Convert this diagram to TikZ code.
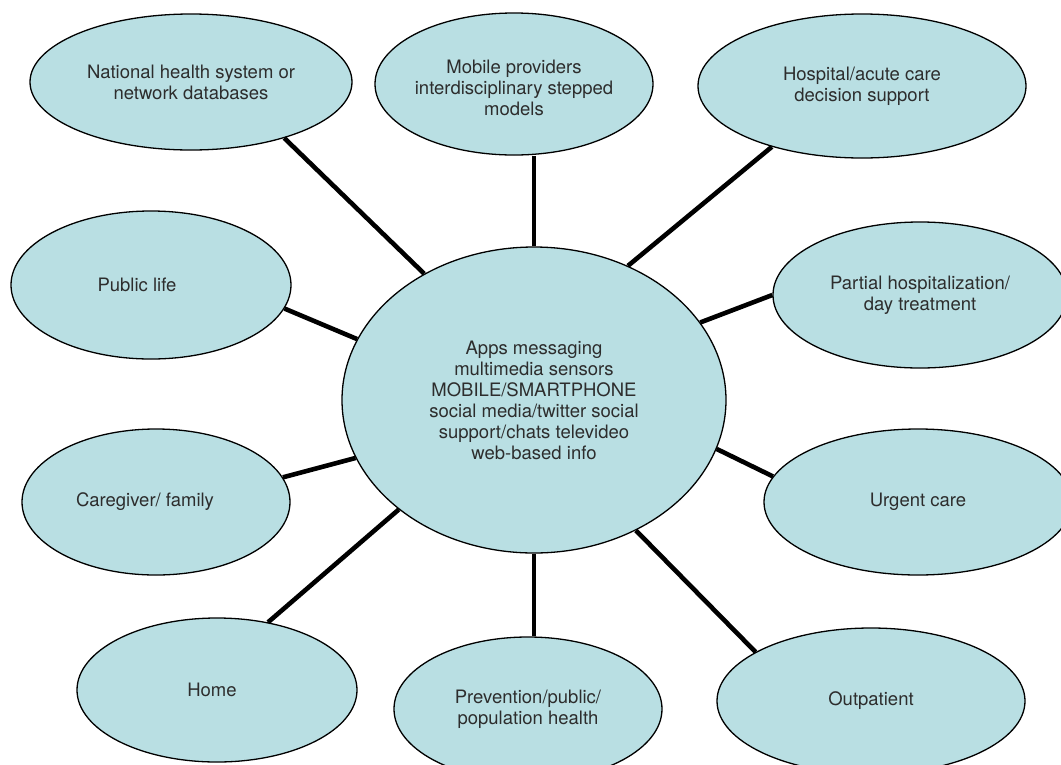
\documentclass[tikz,border=0pt]{standalone}
\usepackage{fontspec}
\setmainfont{TeX Gyre Heros}
\usetikzlibrary{shapes.geometric}
\definecolor{bubblefill}{RGB}{185,223,227}
\definecolor{bubbletext}{RGB}{45,45,45}

\begin{document}
\begin{tikzpicture}[x=1pt, y=-1pt, bubble node/.style={ellipse, draw, fill=bubblefill, line width=1.3pt, inner sep=0pt},
    txt/.style={align=center, text=bubbletext, font=\fontsize{18.5}{21}\selectfont}, link/.style={line width=4.6pt}]
\useasboundingbox (0,0) rectangle (1061,764);

% centre
\node[bubble node, minimum width=384, minimum height=306,
    label={[txt]center:{Apps messaging\\multimedia sensors\\MOBILE/SMARTPHONE\\social media/twitter social\\support/chats televideo\\web-based info}}] (hub) at (534,400) {};

% outer ring
\node[bubble node, minimum width=322, minimum height=136,
    label={[txt]center:{National health system or\\network databases}}] (nat) at (191,82) {};
\node[bubble node, minimum width=278, minimum height=142,
    label={[txt, yshift=-4pt]center:{Mobile providers\\interdisciplinary stepped\\models}}] (mob) at (514,84) {};
\node[bubble node, minimum width=328, minimum height=144,
    label={[txt]center:{Hospital/acute care\\decision support}}] (hosp) at (862,86) {};
\node[bubble node, minimum width=280, minimum height=148,
    label={[txt, xshift=-14pt]center:{Public life}}] (pub) at (151,285) {};
\node[bubble node, minimum width=294, minimum height=146,
    label={[txt]center:{Partial hospitalization/\\day treatment}}] (part) at (920,295) {};
\node[bubble node, minimum width=268, minimum height=146,
    label={[txt, xshift=-11pt]center:{Caregiver/ family}}] (care) at (156,502) {};
\node[bubble node, minimum width=308, minimum height=146,
    label={[txt]center:{Urgent care}}] (urg) at (918,502) {};
\node[bubble node, minimum width=280, minimum height=144,
    label={[txt, xshift=-5pt]center:{Home}}] (home) at (217,690) {};
\node[bubble node, minimum width=268, minimum height=144,
    label={[txt]center:{Prevention/public/\\population health}}] (prev) at (528,709) {};
\node[bubble node, minimum width=308, minimum height=146,
    label={[txt]center:{Outpatient}}] (out) at (871,701) {};

% spokes
\draw[link] (hub.131) -- (nat.-31);
\draw[link] (hub.north) -- (hub.north |- mob.south);
\draw[link] (hub.55) -- (hosp.214);
\draw[link] (hub.161) -- (pub.-10);
\draw[link] (hub.25) -- (part.west);
\draw[link] (hub.198) -- (care.11);
\draw[link] (hub.-15) -- (urg.170);
\draw[link] (hub.219) -- (home.53);
\draw[link] (hub.south) -- (hub.south |- prev.north);
\draw[link] (hub.-52) -- (out.157);
\end{tikzpicture}
\end{document}
